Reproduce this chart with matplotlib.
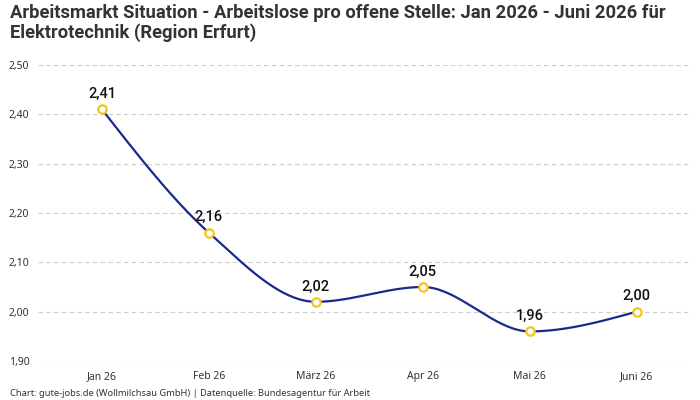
import numpy as np
import matplotlib
matplotlib.use("Agg")
import matplotlib.pyplot as plt
from matplotlib.ticker import FuncFormatter

plt.rcParams['font.family'] = ['Noto Sans', 'DejaVu Sans']

months = ["Jan 26", "Feb 26", "März 26", "Apr 26", "Mai 26", "Juni 26"]
values = [2.41, 2.16, 2.02, 2.05, 1.96, 2.00]
title = "Arbeitsmarkt Situation - Arbeitslose pro offene Stelle: Jan 2026 - Juni 2026 für\nElektrotechnik (Region Erfurt)"
source = "Chart: gute-jobs.de (Wollmilchsau GmbH) | Datenquelle: Bundesagentur für Arbeit"


def monotone_curve(x, y, n=40):
    # monotone cubic hermite, like d3 curveMonotoneX
    x = np.asarray(x, float)
    y = np.asarray(y, float)
    h = np.diff(x)
    s = np.diff(y) / h
    m = np.zeros_like(y)
    for i in range(1, len(y) - 1):
        if s[i - 1] * s[i] <= 0:
            m[i] = 0
        else:
            p = (s[i - 1] * h[i] + s[i] * h[i - 1]) / (h[i - 1] + h[i])
            m[i] = np.sign(s[i - 1]) * min(abs(s[i - 1]), abs(s[i]), 0.5 * abs(p)) * 2
    m[0] = (3 * s[0] - m[1]) / 2 if len(y) > 2 else s[0]
    m[-1] = (3 * s[-1] - m[-2]) / 2 if len(y) > 2 else s[-1]
    xs, ys = [], []
    for i in range(len(h)):
        t = np.linspace(0, 1, n)
        h00 = 2 * t**3 - 3 * t**2 + 1
        h10 = t**3 - 2 * t**2 + t
        h01 = -2 * t**3 + 3 * t**2
        h11 = t**3 - t**2
        xs.append(x[i] + t * h[i])
        ys.append(h00 * y[i] + h10 * h[i] * m[i] + h01 * y[i + 1] + h11 * h[i] * m[i + 1])
    return np.concatenate(xs), np.concatenate(ys)


fig = plt.figure(figsize=(7, 4), dpi=100)
ax = fig.add_axes([0.054, 0.0975, 0.932, 0.74])

x = np.arange(len(months))
cx, cy = monotone_curve(x, values)
ax.plot(cx, cy, color="#1a2a8c", lw=1.6, zorder=3)
ax.plot(x, values, "o", ms=6, mfc="white", mec="#f5c518", mew=1.6, zorder=4)

for xi, v in zip(x, values):
    ax.annotate(f"{v:.2f}".replace(".", ","), (xi, v), xytext=(0, 6),
                textcoords="offset points", ha="center", va="bottom",
                fontsize=10.5, fontweight="medium", color="#111111",
                family="Roboto")

ax.set_xlim(-0.6, 5.5)
ax.set_ylim(1.90, 2.50)
ax.set_yticks(np.arange(1.90, 2.501, 0.10))
ax.yaxis.set_major_formatter(FuncFormatter(lambda v, p: f"{v:.2f}".replace(".", ",")))
ax.set_xticks(x)
ax.set_xticklabels(months)
ax.grid(axis="y", color="#cccccc", ls=(0, (4, 3)), lw=0.8)
ax.tick_params(axis="both", length=0, labelsize=7.5, colors="#333333")
ax.tick_params(axis="x", pad=7)
ax.tick_params(axis="y", pad=6)
for sp in ax.spines.values():
    sp.set_visible(False)

fig.text(0.014, 0.99, title, ha="left", va="top", fontsize=13.2,
         fontweight="bold", color="#333333", linespacing=1.1, family="Roboto")
fig.text(0.014, 0.005, source, ha="left", va="bottom", fontsize=6.7, color="#333333")

fig.savefig("out.png", dpi=100)
